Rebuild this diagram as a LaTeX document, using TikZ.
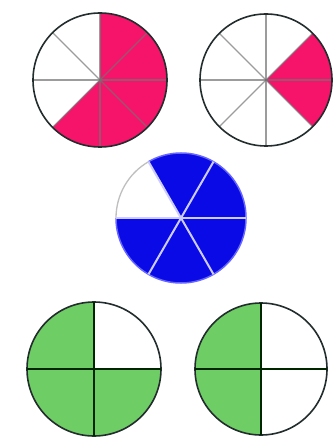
\documentclass[tikz,border=0pt]{standalone}
\definecolor{pinkc}{RGB}{245,20,105}
\definecolor{bluec}{RGB}{10,10,230}
\definecolor{greenc}{RGB}{110,205,100}
\definecolor{rimc}{RGB}{35,45,45}
\tikzset{
  rim/.style={draw=rimc, line width=1.6pt},
  spoke/.style={draw=black!55, opacity=0.7, line width=1.2pt},
  bspoke/.style={draw=blue!20, line width=2pt},
  cross/.style={draw=black!85!green, line width=2.4pt}
}
\begin{document}
\begin{tikzpicture}[x=1pt,y=1pt]
\useasboundingbox (0,0) rectangle (332,-443);
\fill[white] (0,0) rectangle (332,-443);
% top-left: 5/8
\begin{scope}[shift={(100,-80)}]
  \fill[pinkc] (0,0) -- (225:67) arc[start angle=225,end angle=450,radius=67] -- cycle;
  \foreach \a in {0,45,...,315} \draw[spoke] (0,0) -- (\a:67);
  \draw[rim] (0,0) circle[radius=67];
\end{scope}
% top-right: 2/8
\begin{scope}[shift={(266,-80)}]
  \fill[pinkc] (0,0) -- (-45:66) arc[start angle=-45,end angle=45,radius=66] -- cycle;
  \foreach \a in {0,45,...,315} \draw[spoke] (0,0) -- (\a:66);
  \draw[rim] (0,0) circle[radius=66];
\end{scope}
% middle: 5/6 blue
\begin{scope}[shift={(181,-218)}]
  \fill[bluec] (0,0) -- (180:65) arc[start angle=180,end angle=480,radius=65] -- cycle;
  \draw[draw=blue!60, line width=1.5pt] (180:65) arc[start angle=180,end angle=480,radius=65];
  \draw[draw=black!25, line width=1.3pt] (120:65) arc[start angle=120,end angle=180,radius=65];
  \foreach \a in {0,60,...,300} \draw[bspoke] (0,0) -- (\a:65);
\end{scope}
% bottom-left: 3/4 green
\begin{scope}[shift={(94,-369)}]
  \fill[greenc] (0,0) -- (90:67) arc[start angle=90,end angle=360,radius=67] -- cycle;
  \draw[rim] (0,0) circle[radius=67];
  \draw[cross] (-67,0) -- (67,0) (0,-67) -- (0,67);
\end{scope}
% bottom-right: 1/2 green
\begin{scope}[shift={(261,-369)}]
  \fill[greenc] (0,0) -- (90:66) arc[start angle=90,end angle=270,radius=66] -- cycle;
  \draw[rim] (0,0) circle[radius=66];
  \draw[cross] (-66,0) -- (66,0) (0,-66) -- (0,66);
\end{scope}
\end{tikzpicture}
\end{document}
